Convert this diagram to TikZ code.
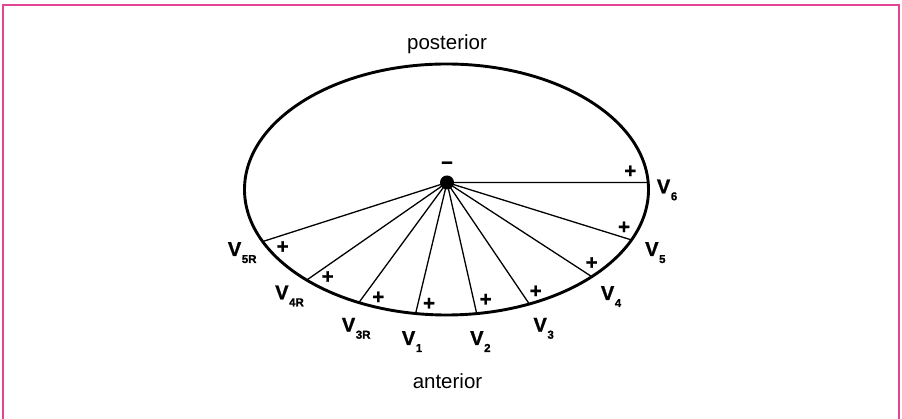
\documentclass[tikz,border=0pt]{standalone}
\usepackage{fontspec}
\setmainfont{Liberation Sans}
\newfontfamily\leadfont[FakeBold=1.1]{Liberation Sans Bold}
\definecolor{framepink}{RGB}{226,68,150}
\newcommand{\leadlab}[1]{V\kern0.6pt\raisebox{-7pt}{\fontsize{11.5}{11.5}\selectfont #1}}

\begin{document}
\begin{tikzpicture}[x=1pt,y=1pt,
  lbl/.style={anchor=base west,inner sep=0pt,font=\fontsize{20}{20}\leadfont},
  signmark/.style={inner sep=0pt,font=\fontsize{20.5}{20.5}\leadfont},
  spoke/.style={line width=1.3pt},
  sidetext/.style={anchor=base,inner sep=0pt,font=\fontsize{20.5}{20.5}\selectfont}]
\useasboundingbox (0,0) rectangle (902,419);
\draw[framepink,line width=2pt] (3,-2) -- (3,414) -- (899,414) -- (899,-2);

\node[sidetext] (post) at (447,369.5) {posterior};
\node[sidetext] (ant) at (447.5,30) {anterior};

% heart outline
\coordinate (c) at (446.5,229.5);
\draw[line width=2.9pt] (c) ellipse [x radius=202pt,y radius=125.5pt];

\path (c) ++(3.2:202pt and 125.5pt) coordinate (e6);
\path (c) ++(-23.7:202pt and 125.5pt) coordinate (e5);
\path (c) ++(-44:202pt and 125.5pt) coordinate (e4);
\path (c) ++(-65.8:202pt and 125.5pt) coordinate (e3);
\path (c) ++(-81.4:202pt and 125.5pt) coordinate (e2);
\path (c) ++(-98.8:202pt and 125.5pt) coordinate (e1);
\path (c) ++(-115.7:202pt and 125.5pt) coordinate (e3r);
\path (c) ++(-133.8:202pt and 125.5pt) coordinate (e4r);
\path (c) ++(-155.5:202pt and 125.5pt) coordinate (e5r);

% leads
\node[circle,fill,inner sep=0pt,minimum size=14pt] (d) at (447,236.5) {};
\draw[spoke] (d.center) -- (e6);
\draw[spoke] (d.center) -- (e5);
\draw[spoke] (d.center) -- (e4);
\draw[spoke] (d.center) -- (e3);
\draw[spoke] (d.center) -- (e2);
\draw[spoke] (d.center) -- (e1);
\draw[spoke] (d.center) -- (e3r);
\draw[spoke] (d.center) -- (e4r);
\draw[spoke] (d.center) -- (e5r);

\node[signmark] (minus) at (447,254) {–};

\node[signmark] (p6) at (630.3,247.3) {+};
\node[signmark] (p5) at (624,191.3) {+};
\node[signmark] (p4) at (591.7,155.7) {+};
\node[signmark] (p3) at (535.7,127.3) {+};
\node[signmark] (p2) at (485.7,119) {+};
\node[signmark] (p1) at (429,115) {+};
\node[signmark] (p3r) at (378.3,121.3) {+};
\node[signmark] (p4r) at (327.7,141.7) {+};
\node[signmark] (p5r) at (282.7,171.7) {+};

\node[lbl] (v6) at (656.7,225.7) {\leadlab{6}};
\node[lbl] (v5) at (645,163) {\leadlab{5}};
\node[lbl] (v4) at (600.7,119) {\leadlab{4}};
\node[lbl] (v3) at (533.3,87.3) {\leadlab{3}};
\node[lbl] (v2) at (470,74) {\leadlab{2}};
\node[lbl] (v1) at (401.7,74) {\leadlab{1}};
\node[lbl] (v3r) at (341.7,87.3) {\leadlab{3R}};
\node[lbl] (v4r) at (275,119.7) {\leadlab{4R}};
\node[lbl] (v5r) at (227.7,163) {\leadlab{5R}};
\end{tikzpicture}
\end{document}
